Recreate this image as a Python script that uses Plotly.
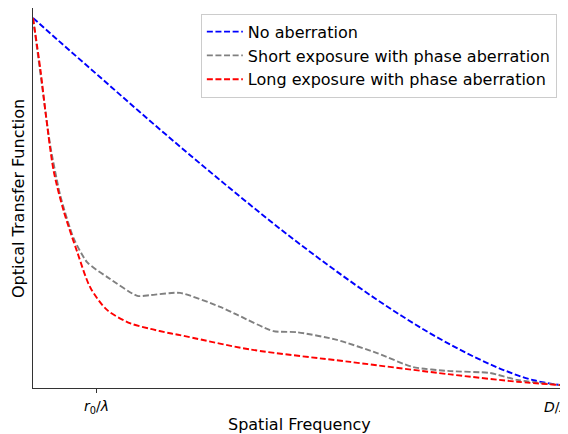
import plotly.graph_objects as go

# spatial frequency, normalised so that D/lambda = 1
freq_blue = [0, 0.05, 0.1, 0.15, 0.2, 0.25, 0.3, 0.35, 0.4, 0.45, 0.5,
             0.55, 0.6, 0.65, 0.7, 0.75, 0.8, 0.85, 0.9, 0.95, 1.0]
otf_none = [1.0, 0.936, 0.873, 0.810, 0.747, 0.685, 0.624, 0.564, 0.505, 0.447, 0.391,
            0.337, 0.285, 0.235, 0.188, 0.144, 0.104, 0.068, 0.037, 0.013, 0.0]

freq_short = [0, 0.020, 0.033, 0.052, 0.077, 0.103, 0.141, 0.198, 0.223, 0.279, 0.355,
              0.388, 0.456, 0.501, 0.577, 0.653, 0.721, 0.792, 0.867, 0.919, 1.0]
otf_short = [1.0, 0.785, 0.650, 0.515, 0.400, 0.334, 0.294, 0.243, 0.245, 0.251, 0.213,
             0.191, 0.147, 0.144, 0.123, 0.087, 0.049, 0.038, 0.033, 0.014, 0.0]

freq_long = [0, 0.014, 0.024, 0.039, 0.058, 0.084, 0.109, 0.141, 0.185, 0.223, 0.260,
             0.279, 0.412, 0.602, 0.792, 0.919, 1.0]
otf_long = [1.0, 0.860, 0.740, 0.585, 0.475, 0.362, 0.265, 0.204, 0.168, 0.153, 0.141,
            0.136, 0.097, 0.063, 0.029, 0.009, 0.0]

tick_vals = [0.121, 1.0]
tick_text = ['<i>r</i><sub>0</sub>/<i>λ</i>', '<i>D</i>/<i>λ</i>']

fig = go.Figure()
dash = '6px,2.6px'
fig.add_trace(go.Scatter(x=freq_blue, y=otf_none, mode='lines', name='No aberration',
                         line=dict(color='blue', width=1.9, dash=dash, shape='spline')))
fig.add_trace(go.Scatter(x=freq_short, y=otf_short, mode='lines',
                         name='Short exposure with phase aberration',
                         line=dict(color='grey', width=1.9, dash=dash, shape='spline', smoothing=0.6)))
fig.add_trace(go.Scatter(x=freq_long, y=otf_long, mode='lines',
                         name='Long exposure with phase aberration',
                         line=dict(color='red', width=1.9, dash=dash, shape='spline', smoothing=0.8)))

# tick labels drawn as annotations so the right one may run off the edge like the original
for v, t in zip(tick_vals, tick_text):
    fig.add_annotation(x=v, y=-0.05, xref='x', yref='paper', text=t, showarrow=False,
                       xanchor='center', yanchor='middle', font=dict(size=14),
                       xshift=-4 if v == 1.0 else 0)
fig.add_annotation(x=0.505, y=-0.095, xref='paper', yref='paper', text='Spatial Frequency',
                   showarrow=False, xanchor='center', yanchor='middle', font=dict(size=16))
fig.add_annotation(x=-0.0285, y=0.5, xref='paper', yref='paper', text='Optical Transfer Function',
                   showarrow=False, textangle=-90, xanchor='center', yanchor='middle',
                   font=dict(size=16))

# the page body adds an 8px margin, so the figure is 8px smaller
fig.update_layout(
    width=560, height=426,
    margin=dict(l=25, r=8, t=0, b=46, autoexpand=False),
    paper_bgcolor='white', plot_bgcolor='white',
    font=dict(family='DejaVu Sans', size=14, color='black'),
    showlegend=True,
    legend=dict(x=0.994, y=0.985, xanchor='right', yanchor='top',
                bgcolor='rgba(255,255,255,0.9)', bordercolor='#cccccc', borderwidth=1,
                font=dict(size=16), tracegroupgap=0, itemwidth=36),
    xaxis=dict(range=[0, 1], tickvals=tick_vals, showticklabels=False,
               showgrid=False, zeroline=False, showline=True, mirror=True,
               linecolor='#333333', linewidth=1, ticks='outside', ticklen=4,
               tickcolor='#333333', automargin=False),
    yaxis=dict(range=[-0.008, 1.027], showticklabels=False, showgrid=False,
               zeroline=False, showline=True, mirror=True, linecolor='#333333',
               linewidth=1, ticks='', automargin=False),
)

fig.write_html("out.html")
